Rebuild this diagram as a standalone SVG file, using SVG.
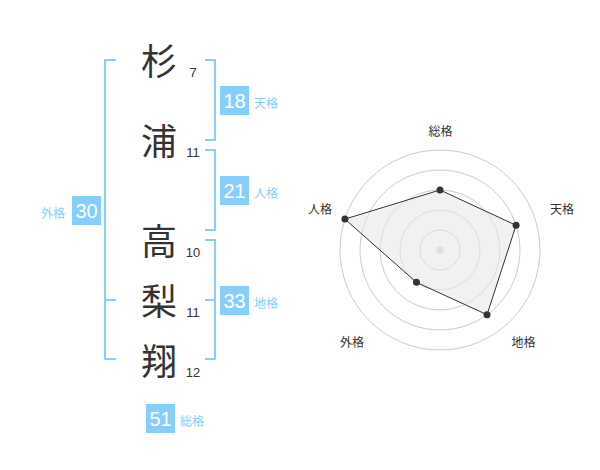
<svg xmlns="http://www.w3.org/2000/svg" width="600" height="470" viewBox="0 0 600 470">
<style>
.ch{font-family:"Noto Sans CJK JP","Noto Sans CJK SC",sans-serif;font-size:36px;fill:#333;text-anchor:middle;dominant-baseline:central}
.num{font-family:"Liberation Sans",Arial,sans-serif;font-size:13px;fill:#333;text-anchor:middle}
.br{fill:none;stroke:#87cefa;stroke-width:2}
.box{fill:#87cefa}
.bn{font-family:"Liberation Sans",Arial,sans-serif;font-size:20px;fill:#fff;text-anchor:middle;dominant-baseline:central}
.bl{font-family:"Noto Sans CJK JP","Noto Sans CJK SC",sans-serif;font-size:12px;fill:#87cefa;dominant-baseline:central}
.ring{fill:none;stroke:#ccc;stroke-width:1}
.rl{font-family:"Noto Sans CJK JP","Noto Sans CJK SC",sans-serif;font-size:12px;fill:#333;text-anchor:middle;dominant-baseline:central}
.pt{fill:#333}
</style>
<rect width="600" height="470" fill="#fff"/>
<g id="chars">
<g id="c1"><text class="ch" x="159" y="59">杉</text><text class="num" x="193" y="77">7</text></g>
<g id="c2"><text class="ch" x="159" y="139">浦</text><text class="num" x="193" y="157">11</text></g>
<g id="c3"><text class="ch" x="159" y="239">高</text><text class="num" x="193" y="257">10</text></g>
<g id="c4"><text class="ch" x="159" y="299">梨</text><text class="num" x="193" y="317">11</text></g>
<g id="c5"><text class="ch" x="159" y="359">翔</text><text class="num" x="193" y="377">12</text></g>
</g>
<g id="connectors">
<path class="br" d="M116,60 H105 V359 H116 M105,300 H116"/>
<path class="br" d="M205,60 H215 V140 H205"/>
<path class="br" d="M205,150 H215 V230 H205"/>
<path class="br" d="M205,240 H215 V359 H205 M215,300 H205"/>
</g>
<g id="tenkaku"><rect class="box" x="220" y="86" width="29" height="29"/><text class="bn" x="234.5" y="101">18</text><text class="bl" x="254" y="102">天格</text></g>
<g id="jinkaku"><rect class="box" x="220" y="176" width="29" height="29"/><text class="bn" x="234.5" y="191">21</text><text class="bl" x="254" y="192">人格</text></g>
<g id="chikaku"><rect class="box" x="220" y="286" width="29" height="29"/><text class="bn" x="234.5" y="301">33</text><text class="bl" x="254" y="302">地格</text></g>
<g id="gaikaku"><rect class="box" x="72" y="196" width="29" height="29"/><text class="bn" x="86.5" y="211">30</text><text class="bl" x="41" y="212">外格</text></g>
<g id="soukaku"><rect class="box" x="146" y="404" width="29" height="29"/><text class="bn" x="160.5" y="419">51</text><text class="bl" x="180" y="420">総格</text></g>
<g id="radar">
<circle class="ring" cx="440" cy="250" r="20"/>
<circle class="ring" cx="440" cy="250" r="40"/>
<circle class="ring" cx="440" cy="250" r="60"/>
<circle class="ring" cx="440" cy="250" r="80"/>
<circle class="ring" cx="440" cy="250" r="100"/>
<circle cx="440" cy="250" r="3.5" fill="#ccc"/>
<polygon points="440,190 516.08,225.28 487.02,314.72 416.49,282.36 344.89,219.1" fill="#e8e8e8" fill-opacity="0.6" stroke="#333" stroke-width="1"/>
<circle class="pt" cx="440" cy="190" r="3.5"/>
<circle class="pt" cx="516.08" cy="225.28" r="3.5"/>
<circle class="pt" cx="487.02" cy="314.72" r="3.5"/>
<circle class="pt" cx="416.49" cy="282.36" r="3.5"/>
<circle class="pt" cx="344.89" cy="219.1" r="3.5"/>
<text class="rl" x="440.5" y="130">総格</text>
<text class="rl" x="562" y="208">天格</text>
<text class="rl" x="523.5" y="341">地格</text>
<text class="rl" x="352" y="341">外格</text>
<text class="rl" x="320" y="208">人格</text>
</g>
</svg>
